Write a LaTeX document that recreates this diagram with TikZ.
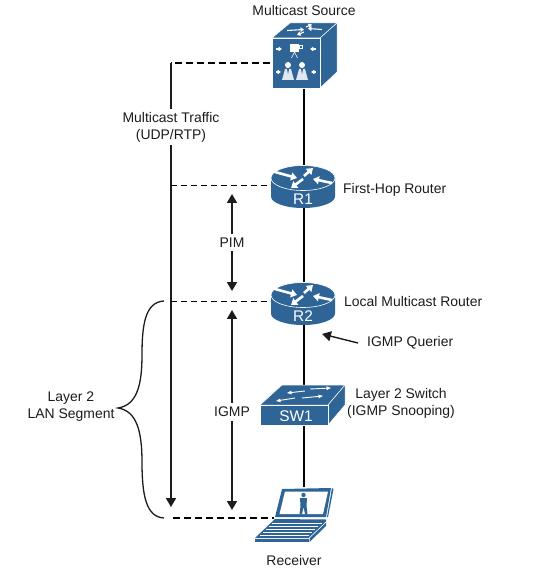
\documentclass[tikz,border=0pt]{standalone}
\usepackage{fontspec}
\setmainfont{Liberation Sans}
\usetikzlibrary{arrows.meta}
\definecolor{ciscoblue}{HTML}{2F6496}
\definecolor{linegray}{HTML}{1C1C1C}
\tikzset{
  lbl/.style={font=\fontsize{14}{17}\selectfont,text=linegray,inner sep=0pt,align=center},
  iconlbl/.style={font=\fontsize{15.5}{18}\selectfont,text=white,inner sep=0pt},
  anchorbox/.style={inner sep=0pt,minimum width=#1},
  trunk/.style={line width=1.6pt,draw=black},
  thickdash/.style={line width=1.6pt,draw=black,dash pattern=on 7pt off 4pt},
  thindash/.style={line width=0.7pt,draw=black,dash pattern=on 6pt off 4pt},
  bigarrow/.style={line width=1.7pt,draw=linegray,{Triangle[length=9pt,width=10pt]}-{Triangle[length=9pt,width=10pt]}},
  onearrow/.style={line width=1.7pt,draw=linegray,-{Triangle[length=9pt,width=10pt]}},
  whitearrow/.style={line width=1.1pt,draw=white,-{Triangle[length=3.5pt,width=4.5pt]}},
  thinwhite/.style={line width=0.9pt,draw=white,-{Triangle[length=4.5pt,width=3.5pt]}},
  fatarrow/.style={line width=2.6pt,draw=white,-{Triangle[length=6pt,width=8pt]}},
  facefill/.style={fill=ciscoblue,draw=white,line width=0.5pt,line join=round}
}
\newcommand{\routericon}[2]{%
  \begin{scope}[shift={(#1,#2)}]
    \path[fill=ciscoblue] (-32,0) -- (-32,18.5) arc[start angle=180,end angle=0,x radius=32,y radius=11.5] -- (32,0) -- cycle;
    \path[fill=ciscoblue,draw=white,line width=0.6pt] (0,0) ellipse[x radius=32,y radius=12.5];
    \draw[fatarrow] (-28,-6) -- (-6,0);
    \draw[fatarrow] (29,5) -- (10,1);
    \draw[fatarrow] (1,-2) -- (10,-10);
    \draw[fatarrow] (0,1) -- (-12,10);
  \end{scope}}
\begin{document}
\begin{tikzpicture}[x=1bp,y=-1bp]
\useasboundingbox (0,0) rectangle (541,569);
\fill[white] (0,0) rectangle (541,569);
% invisible anchor nodes
\node[anchorbox=66bp,minimum height=50bp] (src) at (304,63) {};
\node[anchorbox=64bp,minimum height=40bp] (r1) at (304,187) {};
\node[anchorbox=64bp,minimum height=40bp] (r2) at (304,304) {};
\node[anchorbox=84bp,minimum height=40bp] (sw) at (304,405) {};
\node[anchorbox=60bp,minimum height=40bp] (pc) at (304,507) {};
\coordinate (t0) at (171,63);
\coordinate (t1) at (270,63);
\coordinate (t2) at (171,507);
\coordinate (d1a) at (171,185);
\coordinate (d1b) at (271,185);
\coordinate (d2a) at (171,301);
\coordinate (d2b) at (271,301);
\coordinate (d3a) at (173,518);
\coordinate (d3b) at (274,518);
\coordinate (pimT) at (232,194);
\coordinate (pimB) at (232,291);
\coordinate (igT) at (232,310);
\coordinate (igB) at (232,510);
\coordinate (brT) at (164,301);
\coordinate (brB) at (164,518);
\coordinate (brM) at (118,408);
\coordinate (qS) at (358,343);
\coordinate (qE) at (322,334);
% trunk
\draw[trunk] (src) -- (r1);
\draw[trunk] (r1) -- (r2);
\draw[trunk] (r2) -- (sw);
\draw[trunk] (sw) -- (pc);
% dashed guides
\draw[thickdash] (t1) -- (t0);
\draw[onearrow] (t0) -- (t2);
\draw[thindash] (d1a) -- (d1b);
\draw[thindash] (d2a) -- (d2b);
\draw[thickdash] (d3a) -- (d3b);
% arrows
\draw[bigarrow] (pimT) -- node[midway,fill=white,lbl,inner ysep=4pt,inner xsep=2pt] (pim) {PIM} (pimB);
\draw[bigarrow] (igT) -- node[pos=0.51,fill=white,lbl,inner ysep=4pt,inner xsep=2pt] (igmp) {IGMP} (igB);
\draw[onearrow,line width=1.4pt] (qS) -- (qE);
% brace
\draw[line width=1.3pt,draw=linegray] (brT) .. controls (145,302) and (142,325) .. (142,355)
  .. controls (142,385) and (137,405) .. (brM)
  .. controls (137,411) and (142,432) .. (142,462)
  .. controls (142,495) and (146,517) .. (brB);
% multicast source
\path[facefill] (272,38) -- (290,23) -- (337,23) -- (320,38) -- cycle;
\path[facefill] (320,38) -- (337,23) -- (337,72) -- (320,88) -- cycle;
\path[facefill] (272,38) rectangle (320,88);
\draw[whitearrow] (287,30.5) -- (304,29.5);
\draw[whitearrow] (322,29.5) -- (308,28.5);
\draw[whitearrow] (306,27) -- (312,24.5);
\draw[whitearrow] (304,32) -- (297,35);
\fill[white] (290,44) rectangle (299,52);
\fill[white] (299,45) rectangle (303,49);
\fill[ciscoblue] (300,46) rectangle (302,48);
\draw[white,line width=0.6pt] (294.5,52) -- (291.5,58) (294.5,52) -- (297.5,58);
\draw[whitearrow] (276,49) -- (282,49);
\draw[whitearrow] (316,49) -- (310,49);
\draw[whitearrow] (276,72) -- (281,72);
\draw[whitearrow] (316,72) -- (311,72);
\fill[white] (288,65) circle[radius=3];
\fill[white] (302,65) circle[radius=3];
\fill[white!85!ciscoblue] (282,80) -- (285,69) -- (291,69) -- (294,80) -- cycle;
\fill[white!85!ciscoblue] (296,80) -- (299,69) -- (305,69) -- (308,80) -- cycle;
\fill[ciscoblue] (287,69) -- (289,69) -- (288,74) -- cycle;
\fill[ciscoblue] (301,69) -- (303,69) -- (302,74) -- cycle;
% routers
\routericon{303}{178}
\node[iconlbl] (r1t) at (303,199.5) {R1};
\routericon{303}{295}
\node[iconlbl] (r2t) at (303,316.5) {R2};
% switch
\path[facefill] (260,405) -- (282,385) -- (345,385) -- (328,405) -- cycle;
\path[facefill] (328,405) -- (345,385) -- (345,405) -- (328,425) -- cycle;
\path[facefill] (260,405) rectangle (328,425);
\draw[thinwhite] (310,389) -- (331,388);
\draw[thinwhite] (305,391) -- (287,393);
\draw[thinwhite] (302,398) -- (323,396);
\draw[thinwhite] (295,398) -- (276,401);
\node[iconlbl] (swt) at (296,416) {SW1};
% laptop
\fill[ciscoblue] (282,489) -- (331,488) -- (326,517) -- (275,517) -- cycle;
\fill[ciscoblue] (332,488) -- (333.5,489) -- (328,517) -- (327,517) -- cycle;
\fill[white] (285,491.5) -- (328,491.5) -- (323,514) -- (279.5,514) -- cycle;
\fill[ciscoblue] (303.5,495) circle[radius=2.2];
\fill[ciscoblue] (300,498) -- (307,498) -- (306.5,506) -- (307.5,514) -- (305,514) -- (303.5,507) -- (302,514) -- (299.5,514) -- (300.5,506) -- cycle;
\fill[ciscoblue] (275,519) -- (326,519.5) -- (326,522) -- (309,538) -- (255,538) -- cycle;
\fill[ciscoblue] (255,538.5) -- (309,538.5) -- (309,542) -- (255,542) -- cycle;
\fill[ciscoblue] (309.5,538) -- (326,522.5) -- (326,526) -- (309.5,542) -- cycle;
\draw[white,line width=0.5pt] (272,523) -- (322,523) (269,526) -- (318,526) (266,529) -- (315,529) (263,532) -- (312,532) (260,535) -- (309,535);
\draw[white,line width=0.5pt] (309,538.2) -- (326,522);
% labels
\node[lbl] (tSrc) at (304,11) {Multicast Source};
\node[lbl,fill=white,inner sep=3pt] (tTraffic) at (171,127) {Multicast Traffic\\(UDP/RTP)};
\node[lbl,anchor=west] (tFH) at (343,189.5) {First-Hop Router};
\node[lbl,anchor=west] (tLM) at (344,302) {Local Multicast Router};
\node[lbl,anchor=west] (tQ) at (367,342.5) {IGMP Querier};
\node[lbl,align=center] (tSw) at (401,403) {Layer 2 Switch\\(IGMP Snooping)};
\node[lbl,align=center] (tL2) at (71,406.5) {Layer 2\\LAN Segment};
\node[lbl] (tRc) at (294,561) {Receiver};
\end{tikzpicture}
\end{document}
